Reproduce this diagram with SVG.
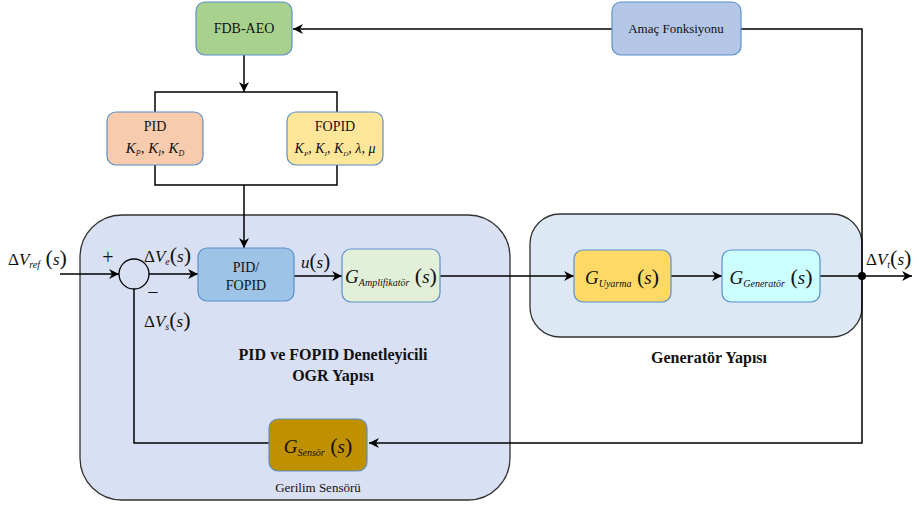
<svg xmlns="http://www.w3.org/2000/svg" width="921" height="507" viewBox="0 0 921 507">
<defs>
<marker id="ah" viewBox="0 0 10 10" refX="10" refY="5" markerWidth="10" markerHeight="10" markerUnits="userSpaceOnUse" orient="auto"><path d="M0,0 L10,5 L0,10 L3,5 Z" fill="#000"/></marker>
</defs>
<style>
text{font-family:"Times New Roman","Liberation Serif","DejaVu Serif",Times,serif;}
.t{fill:#111;}
.box{stroke:#5b8fc9;stroke-width:1.2;}
.ln{fill:none;stroke:#000;stroke-width:1.5;}
.m{font-size:17px;fill:#111;}
.i{font-style:italic;}
.sub{font-style:italic;font-size:10px;}
.b{font-weight:bold;font-size:16px;}
</style>
<rect width="921" height="507" fill="#fff"/>
<g id="region-ogr"><rect x="80" y="215" width="430" height="285" rx="42" fill="#dae0f3" stroke="#333" stroke-width="1.3"/></g>
<g id="region-gen"><rect x="530" y="214" width="332" height="123" rx="30" fill="#dde8f5" stroke="#333" stroke-width="1.3"/></g>
<g id="connectors">
<path class="ln" d="M612,29 H293" marker-end="url(#ah)"/>
<path class="ln" d="M741,29 H862 V443 H369" marker-end="url(#ah)"/>
<path class="ln" d="M244,55 V92" marker-end="url(#ah)"/>
<path class="ln" d="M155,112 V92 H337 V112"/>
<path class="ln" d="M155,165 V185 H337 V165"/>
<path class="ln" d="M244,185 V248" marker-end="url(#ah)"/>
<path class="ln" d="M60,274 H119" marker-end="url(#ah)"/>
<path class="ln" d="M149,274 H198" marker-end="url(#ah)"/>
<path class="ln" d="M294,276 H342" marker-end="url(#ah)"/>
<path class="ln" d="M440,276 H574" marker-end="url(#ah)"/>
<path class="ln" d="M671,276 H722" marker-end="url(#ah)"/>
<path class="ln" d="M820,276 H912" marker-end="url(#ah)"/>
<path class="ln" d="M269,443 H134 V289"/>
<circle cx="862" cy="276" r="4" fill="#000"/>
</g>
<g id="sum"><circle cx="134" cy="274" r="15" fill="none" stroke="#000" stroke-width="1.3"/>
<text class="t" x="108" y="264" font-size="20" text-anchor="middle">+</text>
<text class="t" x="153" y="299" font-size="20" text-anchor="middle">−</text></g>
<g id="fdb"><rect class="box" x="196" y="2" width="96" height="53" rx="9" fill="#a9d18e"/><text class="t" x="244" y="33" font-size="14" text-anchor="middle">FDB-AEO</text></g>
<g id="amac"><rect class="box" x="612" y="2" width="129" height="53" rx="9" fill="#b4c7e7"/><text class="t" x="676" y="33" font-size="13" text-anchor="middle">Amaç Fonksiyonu</text></g>
<g id="pid"><rect class="box" x="107" y="112" width="96" height="53" rx="9" fill="#f8cbad"/><text class="t" x="155" y="131" font-size="14" text-anchor="middle">PID</text>
<text class="t" x="155" y="153" font-size="15" text-anchor="middle"><tspan class="i">K</tspan><tspan class="i" font-size="8" dy="3">P</tspan><tspan dy="-3">, </tspan><tspan class="i">K</tspan><tspan class="i" font-size="8" dy="3">I</tspan><tspan dy="-3">, </tspan><tspan class="i">K</tspan><tspan class="i" font-size="8" dy="3">D</tspan></text></g>
<g id="fopid"><rect class="box" x="287" y="112" width="96" height="53" rx="9" fill="#ffe699"/><text class="t" x="335" y="131" font-size="14" text-anchor="middle">FOPID</text>
<text class="t" x="335" y="153" font-size="14" text-anchor="middle"><tspan class="i">K</tspan><tspan class="i" font-size="7" dy="3">P</tspan><tspan dy="-3">, </tspan><tspan class="i">K</tspan><tspan class="i" font-size="7" dy="3">I</tspan><tspan dy="-3">, </tspan><tspan class="i">K</tspan><tspan class="i" font-size="7" dy="3">D</tspan><tspan dy="-3">, </tspan><tspan class="i">λ</tspan>, <tspan class="i">μ</tspan></text></g>
<g id="pidfopid"><rect class="box" x="198" y="248" width="96" height="53" rx="9" fill="#9dc3e6"/><text class="t" x="246" y="272" font-size="14" text-anchor="middle">PID/</text><text class="t" x="246" y="290" font-size="14" text-anchor="middle">FOPID</text></g>
<g id="amp"><rect class="box" x="342" y="249" width="98" height="53" rx="9" fill="#e2f0d9"/><text class="m" x="391" y="283" text-anchor="middle"><tspan class="i" font-size="19">G</tspan><tspan class="sub" font-size="8" dy="3">Amplifikatör</tspan><tspan dy="-3" font-size="22"> (</tspan><tspan class="i" font-size="19">s</tspan><tspan font-size="22">)</tspan></text></g>
<g id="uyarma"><rect class="box" x="574" y="250" width="97" height="52" rx="9" fill="#ffd966"/><text class="m" x="622" y="284" text-anchor="middle"><tspan class="i" font-size="19">G</tspan><tspan class="sub" dy="3">Uyarma</tspan><tspan dy="-3" font-size="22"> (</tspan><tspan class="i" font-size="19">s</tspan><tspan font-size="22">)</tspan></text></g>
<g id="generator"><rect class="box" x="722" y="250" width="98" height="52" rx="9" fill="#ccffff"/><text class="m" x="771" y="284" text-anchor="middle"><tspan class="i" font-size="19">G</tspan><tspan class="sub" dy="3">Generatör</tspan><tspan dy="-3" font-size="22"> (</tspan><tspan class="i" font-size="19">s</tspan><tspan font-size="22">)</tspan></text></g>
<g id="sensor"><rect class="box" x="269" y="419" width="98" height="52" rx="9" fill="#bf9000"/><text class="m" x="318" y="453" text-anchor="middle"><tspan class="i" font-size="19">G</tspan><tspan class="sub" dy="3">Sensör</tspan><tspan dy="-3" font-size="22"> (</tspan><tspan class="i" font-size="19">s</tspan><tspan font-size="22">)</tspan></text>
<text class="t" x="318" y="492" font-size="13" text-anchor="middle">Gerilim Sensörü</text></g>
<g id="labels">
<text class="m" x="8" y="265" font-size="19">Δ<tspan class="i">V</tspan><tspan class="sub" dy="3">ref</tspan><tspan dy="-3" font-size="22"> (</tspan><tspan class="i">s</tspan><tspan font-size="22">)</tspan></text>
<text class="m" x="144" y="262" font-size="19">Δ<tspan class="i">V</tspan><tspan class="sub" dy="3">e</tspan><tspan dy="-3" font-size="22">(</tspan><tspan class="i">s</tspan><tspan font-size="22">)</tspan></text>
<text class="m" x="144" y="327" font-size="19">Δ<tspan class="i">V</tspan><tspan class="sub" dy="3">s</tspan><tspan dy="-3" font-size="22">(</tspan><tspan class="i">s</tspan><tspan font-size="22">)</tspan></text>
<text class="m" x="301" y="268" font-size="18"><tspan class="i">u</tspan><tspan font-size="21">(</tspan><tspan class="i">s</tspan><tspan font-size="21">)</tspan></text>
<text class="m" x="866" y="265" font-size="19">Δ<tspan class="i">V</tspan><tspan class="sub" dy="3">t</tspan><tspan dy="-3" font-size="22">(</tspan><tspan class="i">s</tspan><tspan font-size="22">)</tspan></text>
<text class="t b" x="333" y="360" text-anchor="middle">PID ve FOPID Denetleyicili</text>
<text class="t b" x="333" y="381" text-anchor="middle">OGR Yapısı</text>
<text class="t b" x="709" y="363" text-anchor="middle">Generatör Yapısı</text>
</g>
</svg>
